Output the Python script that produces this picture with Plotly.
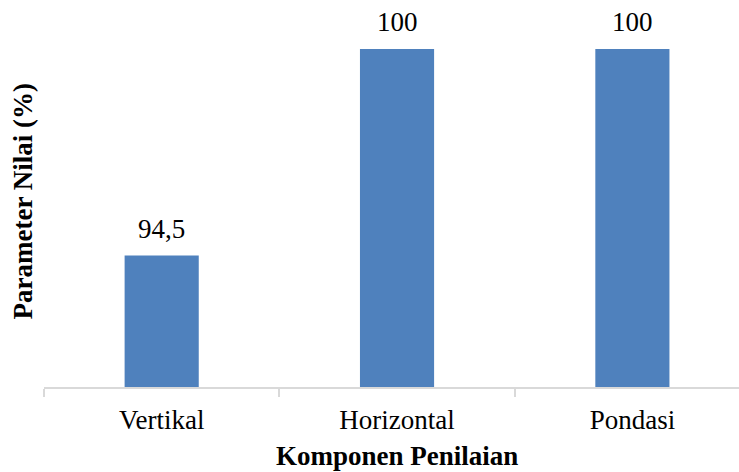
import plotly.graph_objects as go

categories = ["Vertikal", "Horizontal", "Pondasi"]
values = [94.5, 100, 100]
labels = [f"{v:g}".replace(".", ",") for v in values]

FONT = "Liberation Serif, Times New Roman, serif"
FS = 27

fig = go.Figure(go.Bar(
    x=categories, y=values, width=0.315,
    marker=dict(color="#4f81bd", line=dict(width=0)),
))

for c, v, t in zip(categories, values, labels):
    fig.add_annotation(x=c, y=v, text=t, showarrow=False, yanchor="bottom",
                       yshift=10, font=dict(family=FONT, size=FS, color="#000000"))

fig.add_annotation(text="<b>Komponen Penilaian</b>", xref="paper", yref="paper",
                   x=(397 - 43.5) / (739 - 43.5), y=(387 - 456) / 338, showarrow=False,
                   xanchor="center", yanchor="middle",
                   font=dict(family=FONT, size=FS, color="#000000"))
fig.add_annotation(text="<b>Parameter Nilai (%)</b>", xref="paper", yref="paper",
                   x=0, xshift=-22, y=(387 - 201.5) / 338, showarrow=False,
                   textangle=-90, xanchor="center", yanchor="middle",
                   font=dict(family=FONT, size=FS, color="#000000"))

fig.update_layout(
    width=739, height=472,
    margin=dict(l=43.5, r=0, t=49, b=85, pad=0),
    paper_bgcolor="white", plot_bgcolor="white",
    showlegend=False,
    font=dict(family=FONT, size=FS, color="#000000"),
    xaxis=dict(
        type="category", range=[-0.5, 2.453],
        showline=True, linecolor="#d9d9d9", linewidth=2,
        ticks="outside", tickson="boundaries", ticklen=8, tickcolor="#d9d9d9", tickwidth=2,
        ticklabelstandoff=8,
        tickfont=dict(family=FONT, size=FS, color="#000000"),
        showgrid=False, zeroline=False,
    ),
    yaxis=dict(range=[91, 100], visible=False, showgrid=False, zeroline=False),
)

fig.write_html("out.html")
